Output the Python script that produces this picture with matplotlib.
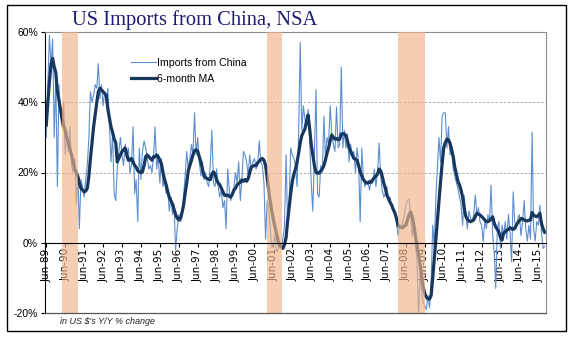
import matplotlib
matplotlib.use("Agg")
import matplotlib.pyplot as plt
import matplotlib.dates as mdates
import pandas as pd
from matplotlib.lines import Line2D
from matplotlib.patches import Rectangle

# monthly, Jun-89 .. Oct-15
months = pd.date_range("1989-06-01", periods=317, freq="MS")

imports = [
    30, 45, 59, 50, 58, 30, 47,
    16, 45, 36, 33, 40, 25, 32, 26, 33, 22, 20, 24,
    11, 19, 4, 18, 16, 13, 18, 22, 30, 43, 40, 42,
    45, 44, 51, 41, 45, 39, 43, 40, 44, 34, 23, 31,
    14, 12, 21, 26, 30, 25, 22, 28, 24, 27, 20, 22,
    33, 14, 18, 6, 27, 18, 26, 29, 27, 24, 21, 22,
    20, 25, 33, 21, 25, 17, 24, 16, 18, 14, 15, 9,
    13, 8, 11, -2, 4, 8, 6, 7, 13, 19, 26, 21,
    24, 28, 25, 37, 25, 30, 23, 19, 23, 18, 20, 17,
    16, 23, 32, 17, 16, 21, 16, 13, 15, 10, 12, 4,
    21, 15, 12, 14, 16, 20, 17, 23, 12, 18, 26, 25,
    23, 19, 25, 21, 23, 24, 21, 22, 29, 23, 22, 17,
    1, 12, 10, 4, -1.5, 0, 2, -2.5, -2, 0, -1, 1,
    5, 25, 6, 12, 27, 25, 24, 22, 16, 31, 57, 32,
    39, 35, 33, 38, 30, 17, 9, 25, 43.6, 14, 13, 22,
    20, 36, 24, 30, 28, 39, 31, 28, 26, 38.7, 27, 28,
    50, 27, 32, 27, 31, 23, 28, 25, 26, 20, 27, 23,
    6, 27, 19, 16, 17, 17, 15, 18, 17, 21, 16, 20,
    28.4, 19, 15, 13, 14, 16, 12, 13, 10, 9, 8, 6,
    2, 5, 4, 6, 7.5, 11, 12, 12.5, 7, 2, 6, -0.7,
    -5, -21, -9, -14, -17, -18, -19, -15, -18.5, -11, 5, -1,
    13, 22, 30, 23, 36, 37, 37, 27, 33, 25, 27, 21,
    19, 17, 15.5, 13, 11, 5, 13.5, 8, 4, 9, 7, 6,
    8, 13.6, 8, 10, 6, 5, 0.3, 6, 4, 8, 6, 16.4,
    2, -3, -13, 4, 6, -1.6, 5, 2, 6, 1, 8, 3,
    -5.4, 14.5, 6, 4, 7, 8, 2, 6, 12, 4, 0.5, 5,
    1, 31.5, 4, 0.5, 6, 5, 10.7, 3, -1.6, -1,
]

ma6 = [
    33.5, 40, 46, 51, 52.5, 50, 48.5,
    43, 40.5, 38, 35.5, 33.5, 32, 30, 28.5, 26.5, 25, 23, 21,
    20, 18.8, 17, 15.5, 15, 14.5, 14.7, 15.5, 19, 24, 28.5, 33,
    36.5, 40, 43, 44, 43.5, 43, 42.5, 42, 38, 35.5, 33, 31.5,
    29.5, 28.5, 23, 24, 25, 26, 26.5, 27, 25, 23.5, 23.5, 24,
    23, 22, 21.5, 20.5, 20.2, 20, 20.2, 22, 24.5, 25, 24.5, 24,
    23.5, 24.5, 24.5, 25, 24.5, 23.5, 22.5, 20, 18, 16.5, 14.5, 13,
    12, 11, 9.5, 8, 7, 6.5, 7, 8.5, 10.7, 14, 17, 20.5,
    22, 23.5, 25, 26.2, 26.5, 26, 24.5, 23, 21, 19, 18.5, 18.3,
    18, 18, 19.5, 20.2, 19.5, 18, 17, 16.5, 15.5, 14.5, 13.5, 13.5,
    13.6, 13.2, 13, 13.8, 15, 15.5, 16.5, 16.9, 17.2, 17.9, 17.5, 18,
    17.5, 18.3, 20, 21.5, 21.8, 22, 22, 22.8, 23.2, 23.8, 24, 23.5,
    22, 18.5, 15, 11.7, 9, 6.5, 4.5, 2.5, 0.5, -0.9, -1.2, -1.6,
    -0.5, 1.5, 6, 10, 14, 17.5, 19.5, 21, 23, 25.5, 28.5, 30.5,
    31.5, 32.5, 34.5, 36.4, 32.6, 28, 25, 22, 20, 19.8, 19.8, 20.5,
    21, 22, 23.5, 25.5, 27, 29, 30.7, 30, 29.5, 29.7, 29.3, 29.5,
    31, 31, 31, 30.5, 29, 27, 26, 25, 24, 23.8, 23.5, 22,
    20.2, 19, 18, 17.5, 17, 17, 17.4, 17.2, 18, 18.5, 19, 19.5,
    21, 20.5, 19, 17, 15.5, 13.5, 12.6, 11.5, 10.7, 9.5, 8.5, 7,
    5, 4.5, 4.4, 4.3, 4.8, 5, 6.5, 8, 8.8, 7.4, 5, 2,
    -0.7, -3.5, -6, -10, -12.5, -14.5, -15.5, -16, -16, -15, -10, -4.5,
    1, 7, 12, 17.4, 22.5, 27, 28.5, 29.5, 29.3, 28.3, 26.5, 24.5,
    21.5, 19.5, 17.5, 16.5, 15, 13, 9.8, 7.5, 6.7, 6.2, 6, 6.2,
    6.5, 7.5, 8.4, 8.2, 7.9, 7.5, 7, 6.5, 6, 6, 6.3, 6.8,
    7.4, 5.5, 4.5, 3.8, 3, 1.5, 0.8, 2.8, 3.1, 3.6, 3.8, 4.3,
    4, 3.8, 4.1, 5, 5.7, 6.3, 6.9, 6.8, 6.5, 6.3, 6.2, 6.4,
    6.5, 8.6, 7.9, 7.6, 7.4, 7.8, 8.4, 5.5, 4, 3,
]

recessions = [("1990-04-05", "1991-02-10"),
              ("2001-02-01", "2001-11-20"),
              ("2008-01-05", "2009-06-05")]

y_ticks = [-20, 0, 20, 40, 60]
y_labels = ["-20%", "0%", "20%", "40%", "60%"]

fig = plt.figure(figsize=(5.77, 3.41), dpi=100)
ax = fig.add_axes([45 / 577, 1 - 313 / 341, 501 / 577, 281 / 341])

ax.plot(months, imports, color="#5B8ED0", lw=0.8, zorder=2, label="Imports from China")
ax.plot(months, ma6, color="#17375E", lw=2.3, zorder=2.5, label="6-month MA")

for start, end in recessions:
    ax.axvspan(pd.Timestamp(start), pd.Timestamp(end), color="#F1B488",
               alpha=0.65, lw=0, zorder=3)

ax.set_ylim(-20, 60)
ax.set_xlim(pd.Timestamp("1989-05-07"), pd.Timestamp("2015-10-27"))

for g in (20, 40):
    ax.axhline(g, color="#A0A0A0", lw=0.6, ls=(0, (3, 2)), zorder=1)

ax.set_yticks(y_ticks)
ax.set_yticklabels(y_labels, fontsize=7.5, family="Liberation Sans")
ax.tick_params(axis="y", direction="out", length=3, width=0.8, pad=2)

ax.xaxis.set_major_locator(mdates.MonthLocator(bymonth=6))
ax.xaxis.set_major_formatter(mdates.DateFormatter("%b-%y"))
ax.tick_params(axis="x", direction="out", length=3, width=0.8, pad=1,
               labelsize=7.5, labelrotation=90)
for lab in ax.get_xticklabels():
    lab.set_family("Liberation Serif")

ax.spines["bottom"].set_position(("data", 0))
ax.spines["bottom"].set_zorder(4)
ax.spines["left"].set_color("black")
for s in ("top", "right"):
    ax.spines[s].set_color("#8C8C8C")
    ax.spines[s].set_linewidth(0.8)
ax.axhline(-20, color="#555555", lw=0.9, zorder=4, clip_on=False)

handles = [Line2D([], [], color="#5B8ED0", lw=0.8),
           Line2D([], [], color="#17375E", lw=2.3)]
fig.legend(handles, ["Imports from China", "6-month MA"],
           loc="upper left", bbox_to_anchor=(121 / 577, 1 - 48 / 341),
           frameon=False, handlelength=2.4, handletextpad=0.1,
           labelspacing=0.6, prop={"family": "Liberation Sans", "size": 7.6})

fig.text(195 / 577, 1 - 20 / 341, "US Imports from China, NSA",
         ha="center", va="center", fontsize=14.8, family="Liberation Serif",
         color="#1C1C6E")
fig.text(60 / 577, 1 - 322 / 341, "in US $'s Y/Y % change", ha="left",
         va="center", fontsize=6.5, style="italic", family="Liberation Sans",
         color="#222222")

fig.patches.append(Rectangle((7 / 577, 1 - 331 / 341), 559 / 577, 326 / 341,
                             transform=fig.transFigure, fill=False,
                             edgecolor="black", lw=1.0))

fig.savefig("out.png", dpi=100)
